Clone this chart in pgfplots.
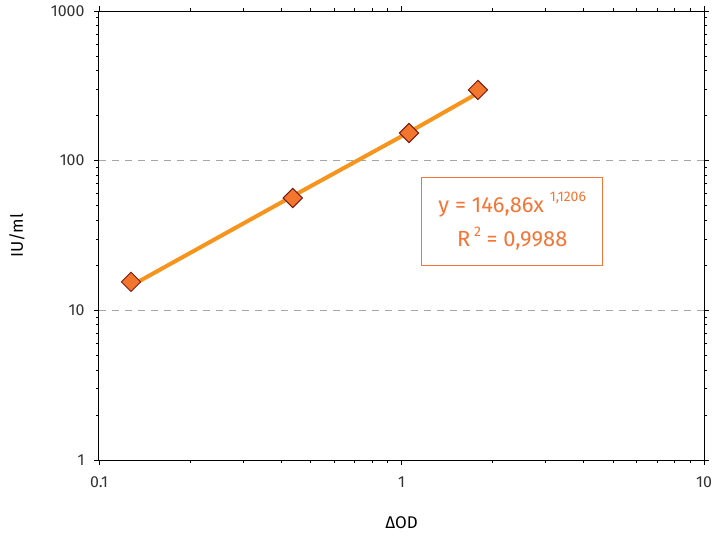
\documentclass[border=0pt]{standalone}
\usepackage{pgfplots}
\pgfplotsset{compat=1.18}
\usepackage{fontspec}
\setmainfont{Fira Sans}
\definecolor{tick}{HTML}{333333}
\definecolor{mfill}{HTML}{F2762E}
\definecolor{medge}{HTML}{7A1A12}
\definecolor{trend}{HTML}{F7941D}
\definecolor{eqc}{HTML}{F47535}
\begin{document}
\begin{tikzpicture}
\begin{axis}[
  scale only axis, width=605bp, height=449bp,
  xmode=log, ymode=log,
  xmin=0.1, xmax=10, ymin=1, ymax=1000,
  xtick={0.1,1,10}, xticklabels={0.1,1,10},
  ytick={1,10,100,1000}, yticklabels={1,10,100,1000},
  minor xtick={}, minor ytick={},
  tick align=outside, major tick length=5bp,
  tick style={black, line width=0.8pt},
  axis line style={black, line width=1pt},
  ymajorgrids, grid style={gray!70, line width=1pt, dash pattern=on 7bp off 6bp},
  ticklabel style={font=\fontsize{16}{18}\selectfont, text=tick},
  xticklabel style={yshift=-8bp},
  yticklabel style={xshift=-6bp},
  xlabel={ΔOD}, ylabel={IU/ml},
  label style={font=\fontsize{17}{19}\selectfont, text=black},
  xlabel style={at={(axis description cs:0.5,-0.1403)}, anchor=center},
  ylabel style={at={(axis description cs:-0.1355,0.5)}, anchor=center},
  clip=false,
]
\addplot[only marks, mark=square*, mark size=6.8bp,
  mark options={fill=mfill, draw=medge, line width=1pt, rotate=45}]
  coordinates {(0.1276,15.5) (0.437,56.3) (1.059,153) (1.79,297)};
\addplot[trend, line width=4bp, no marks]
  coordinates {(0.1276,14.6) (0.437,58) (1.059,155) (1.79,283)};
\node[draw=eqc, line width=0.8pt, text=eqc, minimum width=181bp, minimum height=88bp,
  align=center, font=\fontsize{22}{35}\selectfont, inner sep=0pt]
  at (rel axis cs:0.683,0.532)
  {y = 146,86x \raisebox{0.5em}{\fontsize{14}{15}\selectfont 1,1206}\\
   R\,\raisebox{0.5em}{\fontsize{14}{15}\selectfont 2} = 0,9988};
\coordinate (bl) at (rel axis cs:0,0);
\coordinate (tr) at (rel axis cs:1,1);
\end{axis}
\pgfresetboundingbox
\path ([shift={(-99bp,-76bp)}]bl) rectangle ([shift={(17bp,11bp)}]tr);
\end{tikzpicture}
\end{document}
